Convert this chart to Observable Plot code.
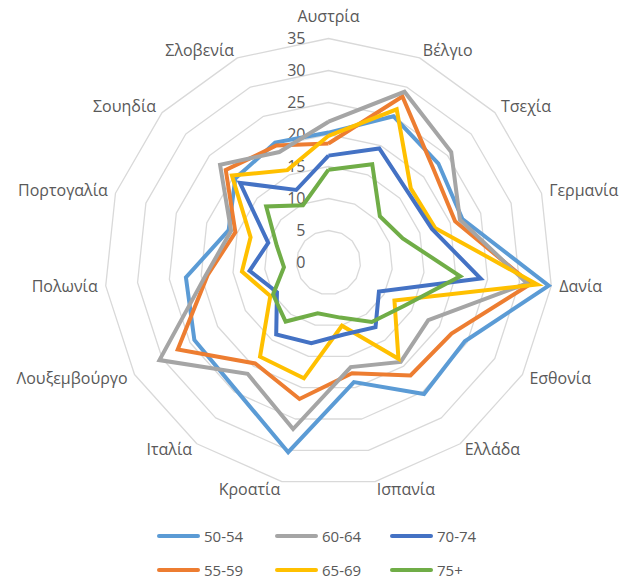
<!DOCTYPE html>
<html><head><meta charset="utf-8">
<script src="https://cdn.jsdelivr.net/npm/d3@7"></script>
<script src="https://cdn.jsdelivr.net/npm/@observablehq/plot@0.6"></script>
<style>
body{margin:0;background:#fff;font-family:"Open Sans",sans-serif;overflow:hidden;}
#legend{position:relative;width:620px;height:56px;}
.item{position:absolute;display:flex;align-items:center;font-size:15px;color:#595959;height:16px;line-height:16px;}
.swatch{display:inline-block;width:43px;height:4px;border-radius:2px;margin-right:4px;}
</style></head><body>
<div id="chart"></div><div id="legend"></div>
<script>
const countries = ["Αυστρία","Βέλγιο","Τσεχία","Γερμανία","Δανία","Εσθονία","Ελλάδα","Ισπανία","Κροατία","Ιταλία","Λουξεμβούργο","Πολωνία","Πορτογαλία","Σουηδία","Σλοβενία"];
const seriesNames = ["50-54","55-59","60-64","65-69","70-74","75+"];
const seriesColors = ["#5B9BD5","#ED7D31","#A5A5A5","#FFC000","#4472C4","#70AD47"];
const v50_54 = [20.3,25.0,23.1,22.0,34.6,24.6,25.4,19.1,30.3,24.6,24.2,22.4,16.4,19.6,20.5];
const v55_59 = [18.6,28.4,22.0,20.8,31.8,22.2,21.8,17.7,21.8,19.5,27.2,19.0,15.3,21.6,20.0];
const v60_64 = [22.0,29.2,25.8,21.6,31.2,18.0,19.2,16.7,26.6,21.5,30.5,19.3,16.0,22.8,18.9];
const v65_69 = [19.8,26.2,17.3,17.5,32.8,11.9,18.6,10.1,18.5,18.2,10.5,13.6,12.8,20.3,15.8];
const v70_74 = [16.7,19.5,16.6,17.0,23.9,9.1,12.5,11.5,12.9,13.9,9.3,12.4,9.9,18.6,12.4];
const v75plus = [14.5,16.8,10.8,12.2,20.7,13.6,11.5,8.8,8.1,11.4,10.0,7.0,8.5,13.1,9.8];
const tickValues = [0,5,10,15,20,25,30,35];

const seriesValues = [v50_54,v55_59,v60_64,v65_69,v70_74,v75plus];
const N = countries.length;
const maxV = 35;
const ang = i => i * 2 * Math.PI / N;
const px = (r, i) => r * Math.sin(ang(i));
const py = (r, i) => r * Math.cos(ang(i));

const gridPts = tickValues.filter(t => t > 0).flatMap(t => d3.range(N + 1).map(j => ({t, i: j % N})));
const seriesPts = seriesNames.flatMap((s, k) => d3.range(N + 1).map(j => ({s, i: j % N, v: seriesValues[k][j % N]})));
const labelData = countries.map((c, i) => ({c, i}));
const labR = maxV + 1.25;
const sinOf = d => Math.sin(ang(d.i));

const chart = Plot.plot({
  width: 620, height: 525,
  marginLeft: 104, marginRight: 68, marginTop: 38, marginBottom: 39,
  x: {domain: [-maxV, maxV], axis: null},
  y: {domain: [-maxV, maxV], axis: null},
  color: {domain: seriesNames, range: seriesColors},
  style: {fontFamily: "'Open Sans', sans-serif", fontSize: "16px", color: "#595959", background: "white", overflow: "visible"},
  marks: [
    Plot.line(gridPts, {x: d => px(d.t, d.i), y: d => py(d.t, d.i), z: "t", stroke: "#d9d9d9", strokeWidth: 1.3}),
    Plot.text(tickValues, {x: d => 0, y: d => d, text: d => String(d), textAnchor: "end", dx: -23, fill: "#595959", fontSize: 16}),
    Plot.line(seriesPts, {x: d => px(d.v, d.i), y: d => py(d.v, d.i), z: "s", stroke: "s", strokeWidth: 4, strokeLinejoin: "miter", strokeMiterlimit: 4, strokeLinecap: "butt"}),
    Plot.text(labelData.filter(d => sinOf(d) > 0.05), {x: d => px(labR, d.i), y: d => py(labR, d.i), text: "c", textAnchor: "start", fill: "#595959", fontSize: 16}),
    Plot.text(labelData.filter(d => sinOf(d) < -0.05), {x: d => px(labR, d.i), y: d => py(labR, d.i), text: "c", textAnchor: "end", fill: "#595959", fontSize: 16}),
    Plot.text(labelData.filter(d => Math.abs(sinOf(d)) <= 0.05), {x: d => px(labR, d.i), y: d => py(labR, d.i), text: "c", textAnchor: "middle", dy: -14, fill: "#595959", fontSize: 16})
  ]
});
document.getElementById("chart").appendChild(chart);

// legend: column-major, 3 columns x 2 rows
const legend = document.getElementById("legend");
const colLeft = [157, 275, 390];
const rowTop = [3, 37];
seriesNames.forEach((s, k) => {
  const col = Math.floor(k / 2), row = k % 2;
  const item = document.createElement("div");
  item.className = "item";
  item.style.left = colLeft[col] + "px";
  item.style.top = rowTop[row] + "px";
  const sw = document.createElement("span");
  sw.className = "swatch";
  sw.style.background = seriesColors[k];
  item.appendChild(sw);
  item.appendChild(document.createTextNode(s));
  legend.appendChild(item);
});
</script>
</body></html>
